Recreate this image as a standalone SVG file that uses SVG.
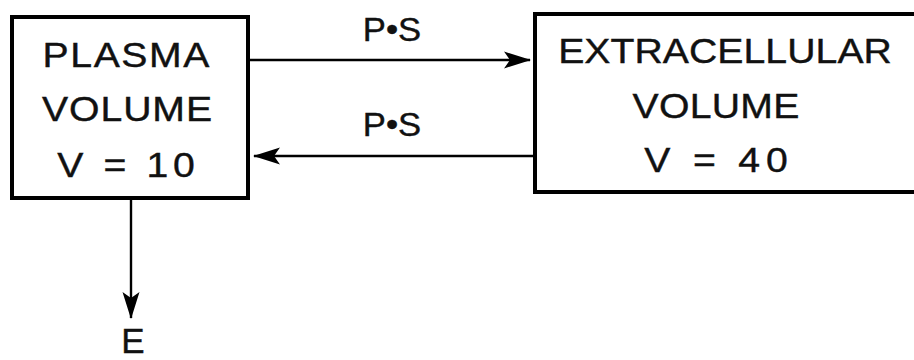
<svg xmlns="http://www.w3.org/2000/svg" width="914" height="360" viewBox="0 0 914 360">
<style>
.box{fill:#fff;stroke:#000;stroke-width:4}
.t{font-family:"Liberation Sans",Arial,sans-serif;font-size:35px;fill:#111;stroke:#111;stroke-width:0.4;text-anchor:middle}
.s{font-size:33px}
.c{stroke:#000;stroke-width:2.4;fill:none}
</style>
<defs>
<marker id="ah" markerUnits="userSpaceOnUse" markerWidth="28" markerHeight="20" viewBox="0 0 28 20" refX="26" refY="10" orient="auto">
<path d="M0,1.5 L27,10 L0,18.5 L6,10 Z" fill="#000"/>
</marker>
</defs>
<rect width="914" height="360" fill="#fff"/>
<g id="plasma">
<rect class="box" x="12" y="17" width="236" height="181"/>
<text class="t" transform="translate(126,67) scale(1.12,1)" textLength="149" lengthAdjust="spacing">PLASMA</text>
<text class="t" transform="translate(127,121) scale(1.12,1)" textLength="152" lengthAdjust="spacing">VOLUME</text>
<text class="t" transform="translate(126,177) scale(1.12,1)" textLength="123" lengthAdjust="spacing">V = 10</text>
</g>
<g id="extracellular">
<rect class="box" x="535" y="14" width="400" height="178"/>
<text class="t" transform="translate(725,63) scale(1.12,1)" textLength="298" lengthAdjust="spacing">EXTRACELLULAR</text>
<text class="t" transform="translate(716,118) scale(1.12,1)" textLength="149" lengthAdjust="spacing">VOLUME</text>
<text class="t" transform="translate(716,172) scale(1.12,1)" textLength="128" lengthAdjust="spacing">V = 40</text>
</g>
<g id="connectors">
<line class="c" x1="250" y1="60" x2="530" y2="60" marker-end="url(#ah)"/>
<line class="c" x1="533" y1="156" x2="254" y2="156" marker-end="url(#ah)"/>
<line class="c" x1="131" y1="200" x2="131" y2="318" marker-end="url(#ah)"/>
</g>
<g id="labels">
<text class="t s" transform="translate(392,41) scale(1.05,1)">P•S</text>
<text class="t s" transform="translate(392,136) scale(1.05,1)">P•S</text>
</g>
<g id="e">
<text class="t" x="133" y="353">E</text>
</g>
</svg>
